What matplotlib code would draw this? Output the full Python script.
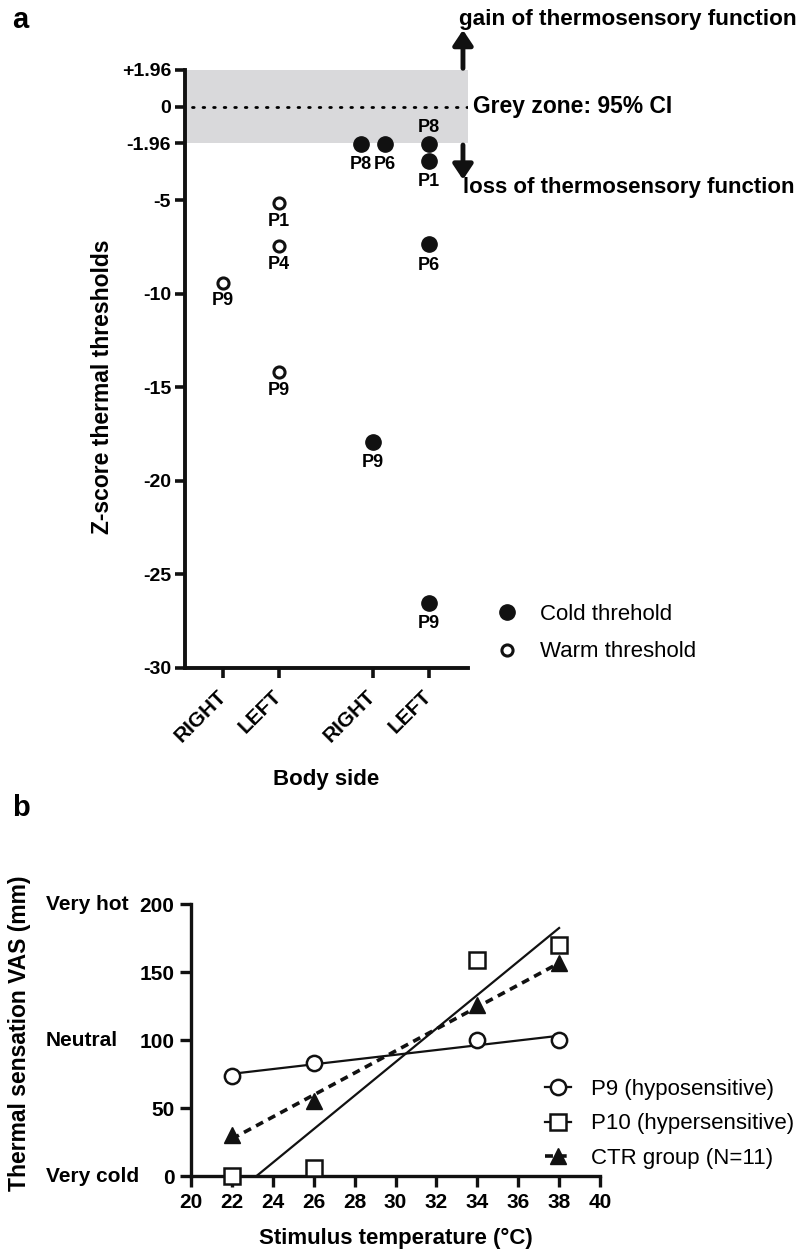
import matplotlib.pyplot as plt
import matplotlib.transforms as mtransforms
from matplotlib.lines import Line2D
import numpy as np

plt.rcParams['font.family'] = ['Liberation Sans', 'DejaVu Sans']

W, H = 804, 1253

# ---- panel a data ----
side_labels = ['RIGHT', 'LEFT', 'RIGHT', 'LEFT']
side_pos = [1, 2, 3.68, 4.68]

warm_side = [0, 1, 1, 1]
warm_z = [-9.4, -5.15, -7.45, -14.2]
warm_ids = ['P9', 'P1', 'P4', 'P9']

cold_side = [2, 2, 2, 3, 3, 3, 3]
cold_z = [-2.0, -2.0, -17.9, -2.0, -2.9, -7.35, -26.5]
cold_ids = ['P8', 'P6', 'P9', 'P8', 'P1', 'P6', 'P9']

# ---- panel b data ----
temps = [22, 26, 34, 38]
p9_vas = [73.5, 83, 100, 100]
p10_vas = [0, 6, 159, 170]
ctr_vas = [30, 55.5, 125.7, 156.5]


def fig_box(left, top, right, bottom):
    return [left / W, 1 - bottom / H, (right - left) / W, (bottom - top) / H]


fig = plt.figure(figsize=(W / 100, H / 100), dpi=100)

# ================= panel a =================
ax = fig.add_axes(fig_box(185, 70, 468, 668))
ax.set_xlim(0.32, 5.38)
ax.set_ylim(-30, 1.96)

ax.axhspan(-1.96, 1.96, color='#d9d9db', zorder=0, lw=0)
ax.plot([0.45, 5.38], [0, 0], color='black', lw=2, ls=(0, (0.6, 3.2)),
        dash_capstyle='round', zorder=1)

# dodge for overlapping cold points, label placement
cold_dodge = [-0.21, 0.21, 0, 0, 0, 0, 0]
cold_above = [False, False, False, True, False, False, False]

wx = [side_pos[s] for s in warm_side]
ax.plot(wx, warm_z, 'o', ms=8, mfc='white', mec='#111111', mew=2.2, ls='none', zorder=3)
for x, z, t in zip(wx, warm_z, warm_ids):
    ax.annotate(t, (x, z), xytext=(0, -13), textcoords='offset points',
                ha='center', va='center', fontsize=13, fontweight='bold')

cx = [side_pos[s] + d for s, d in zip(cold_side, cold_dodge)]
ax.plot(cx, cold_z, 'o', ms=11, color='#111111', ls='none', zorder=3, clip_on=False)
for x, z, t, up in zip(cx, cold_z, cold_ids, cold_above):
    off = 12 if up else -15
    ax.annotate(t, (x, z), xytext=(0, off), textcoords='offset points',
                ha='center', va='center', fontsize=13, fontweight='bold')

ax.set_yticks([1.96, 0, -1.96, -5, -10, -15, -20, -25, -30])
ax.set_yticklabels(['+1.96', '0', '-1.96', '-5', '-10', '-15', '-20', '-25', '-30'],
                   fontsize=14, fontweight='bold')
ax.set_xticks(side_pos)
ax.set_xticklabels(side_labels, rotation=45, ha='right', va='center',
                   rotation_mode='anchor', fontsize=15, fontweight='bold')
ax.tick_params(axis='both', width=2.6, length=7, pad=3, color='#111111')
ax.tick_params(axis='x', pad=11)
for sp in ['top', 'right']:
    ax.spines[sp].set_visible(False)
for sp in ['left', 'bottom']:
    ax.spines[sp].set_linewidth(2.8)
    ax.spines[sp].set_color('#111111')

ax.set_xlabel('Body side', fontsize=16, fontweight='bold', labelpad=17)
fig.text(103 / W, 1 - 387 / H, 'Z-score thermal thresholds', fontsize=16.5,
         fontweight='bold', rotation=90, ha='center', va='center')

# arrows for gain / loss
arr = dict(arrowstyle='-|>,head_length=0.9,head_width=0.6', lw=3.5,
           color='#111111', shrinkA=0, shrinkB=0)
ax.annotate('', xy=(5.29, 4.1), xytext=(5.29, 2.05), arrowprops=arr,
            annotation_clip=False)
ax.annotate('', xy=(5.29, -3.9), xytext=(5.29, -2.05), arrowprops=arr,
            annotation_clip=False)

fig.text(459 / W, 1 - 20 / H, 'gain of thermosensory function', fontsize=16.2,
         fontweight='bold', ha='left', va='center')
fig.text(473 / W, 1 - 106 / H, 'Grey zone: 95% CI', fontsize=16.5,
         fontweight='bold', ha='left', va='center')
fig.text(463 / W, 1 - 188 / H, 'loss of thermosensory function', fontsize=16,
         fontweight='bold', ha='left', va='center')

handles_a = [
    Line2D([], [], marker='o', ls='none', ms=11, color='#111111'),
    Line2D([], [], marker='o', ls='none', ms=8, mfc='white', mec='#111111', mew=2.2),
]
fig.legend(handles_a, ['Cold threhold', 'Warm threshold'], loc='center left',
           bbox_to_anchor=(496 / W, 1 - 633 / H), frameon=False, fontsize=16,
           handlelength=1.0, handletextpad=1.0, labelspacing=0.75,
           borderpad=0, borderaxespad=0)

fig.text(12 / W, 1 - 20 / H, 'a', fontsize=21, fontweight='bold', ha='left', va='center')
fig.text(12 / W, 1 - 808 / H, 'b', fontsize=21, fontweight='bold', ha='left', va='center')

# ================= panel b =================
bx = fig.add_axes(fig_box(191, 904, 600, 1176))
bx.set_xlim(20, 40)
bx.set_ylim(0, 200)

t = np.array(temps, dtype=float)
for vals in [p9_vas, p10_vas]:
    k, b = np.polyfit(t, vals, 1)
    bx.plot([22, 38], [k * 22 + b, k * 38 + b], color='#111111', lw=1.6, zorder=2)
k, b = np.polyfit(t, ctr_vas, 1)
bx.plot([22, 38], [k * 22 + b, k * 38 + b], color='#111111', lw=2.6,
        ls=(0, (2.2, 1.6)), zorder=2)

bx.plot(temps, p9_vas, 'o', ms=11, mfc='white', mec='#111111', mew=1.8,
        ls='none', zorder=3, clip_on=False)
bx.plot(temps, p10_vas, 's', ms=11, mfc='white', mec='#111111', mew=1.8,
        ls='none', zorder=3, clip_on=False)
bx.plot(temps, ctr_vas, '^', ms=11, color='#111111', ls='none', zorder=3, clip_on=False)

bx.set_xticks(np.arange(20, 41, 2))
bx.set_yticks([0, 50, 100, 150, 200])
bx.tick_params(axis='both', width=2.4, length=8, pad=4, color='#111111',
               labelsize=15)
for lab in bx.get_xticklabels() + bx.get_yticklabels():
    lab.set_fontweight('bold')
for sp in ['top', 'right']:
    bx.spines[sp].set_visible(False)
for sp in ['left', 'bottom']:
    bx.spines[sp].set_linewidth(2.4)
    bx.spines[sp].set_color('#111111')

bx.set_xlabel('Stimulus temperature (°C)', fontsize=16, fontweight='bold', labelpad=12)
fig.text(20 / W, 1 - 1033 / H, 'Thermal sensation VAS (mm)', fontsize=16.5,
         fontweight='bold', rotation=90, ha='center', va='center')

trans = mtransforms.blended_transform_factory(fig.transFigure, bx.transData)
for y, s in [(200, 'Very hot'), (100, 'Neutral'), (0, 'Very cold')]:
    bx.text(46 / W, y, s, transform=trans, fontsize=15, fontweight='bold',
            ha='left', va='center')

handles_b = [
    Line2D([], [], color='#111111', lw=1.6, marker='o', ms=11, mfc='white', mew=1.8),
    Line2D([], [], color='#111111', lw=1.6, marker='s', ms=11, mfc='white', mew=1.8),
    Line2D([], [], color='#111111', lw=2.6, ls=(0, (2.2, 1.6)), marker='^', ms=11),
]
fig.legend(handles_b, ['P9 (hyposensitive)', 'P10 (hypersensitive)', 'CTR group (N=11)'],
           loc='center left', bbox_to_anchor=(545 / W, 1 - 1124 / H), frameon=False,
           fontsize=16, handlelength=1.15, handletextpad=0.9, labelspacing=0.6,
           borderpad=0, borderaxespad=0)

fig.savefig('out.png', dpi=100)
